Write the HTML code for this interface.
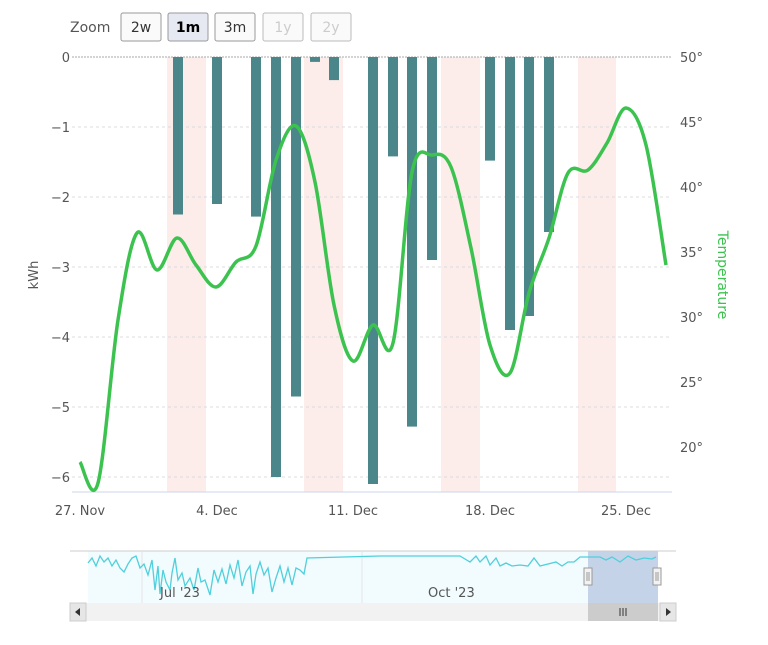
<!DOCTYPE html>
<html><head><meta charset="utf-8"><style>
body{margin:0;background:#fff;font-family:"Liberation Sans","DejaVu Sans",sans-serif}
svg text{font-family:"DejaVu Sans","Liberation Sans",sans-serif}
</style></head><body>
<svg id="s" width="768" height="640" xmlns="http://www.w3.org/2000/svg">
<rect width="768" height="640" fill="#fff"/>
<!-- zoom buttons -->
<text x="70" y="32" font-size="14" fill="#555">Zoom</text>
<g font-size="14">
<rect x="121" y="13" width="40" height="28" rx="2" fill="#fafafa" stroke="#999"/><text x="141" y="32" text-anchor="middle" fill="#333">2w</text>
<rect x="168" y="13" width="40" height="28" rx="2" fill="#e6e9f2" stroke="#999"/><text x="188" y="32" text-anchor="middle" fill="#000" font-weight="bold">1m</text>
<rect x="215" y="13" width="40" height="28" rx="2" fill="#fafafa" stroke="#999"/><text x="235" y="32" text-anchor="middle" fill="#333">3m</text>
<rect x="263" y="13" width="40" height="28" rx="2" fill="#fafafa" stroke="#bbb"/><text x="283" y="32" text-anchor="middle" fill="#ccc">1y</text>
<rect x="311" y="13" width="40" height="28" rx="2" fill="#fafafa" stroke="#bbb"/><text x="331" y="32" text-anchor="middle" fill="#ccc">2y</text>
</g>
<!-- weekend bands -->
<g fill="#fcecea">
<rect x="167" y="57" width="39" height="435"/><rect x="304" y="57" width="39" height="435"/>
<rect x="441" y="57" width="39" height="435"/><rect x="578" y="57" width="38" height="435"/>
</g>
<!-- grid -->
<g stroke="#ddd" stroke-dasharray="3,3">
<line x1="72" x2="672" y1="127" y2="127"/><line x1="72" x2="672" y1="197" y2="197"/>
<line x1="72" x2="672" y1="267" y2="267"/><line x1="72" x2="672" y1="337" y2="337"/>
<line x1="72" x2="672" y1="407" y2="407"/><line x1="72" x2="672" y1="477" y2="477"/>
</g>
<line x1="72" x2="672" y1="57" y2="57" stroke="#aaa" stroke-dasharray="2,1"/>
<line x1="72" x2="672" y1="492" y2="492" stroke="#ccd6eb"/>
<g id="bars" fill="#4a868a"></g>
<path id="temp" fill="none" stroke="#3cc34f" stroke-width="3.5" stroke-linejoin="round"/>
<!-- left labels -->
<g font-size="13" fill="#555" text-anchor="end">
<text x="70" y="62">0</text><text x="70" y="132">−1</text><text x="70" y="202">−2</text>
<text x="70" y="272">−3</text><text x="70" y="342">−4</text><text x="70" y="412">−5</text><text x="70" y="482">−6</text>
</g>
<text transform="translate(38,275) rotate(-90)" font-size="13" fill="#555" text-anchor="middle">kWh</text>
<g font-size="13" fill="#555">
<text x="680" y="62">50°</text><text x="680" y="127">45°</text><text x="680" y="192">40°</text>
<text x="680" y="257">35°</text><text x="680" y="322">30°</text><text x="680" y="387">25°</text><text x="680" y="452">20°</text>
</g>
<text transform="translate(718,275) rotate(90)" font-size="14" fill="#3cc34f" text-anchor="middle">Temperature</text>
<g font-size="13" fill="#555" text-anchor="middle">
<text x="80" y="515">27. Nov</text><text x="217" y="515">4. Dec</text><text x="353" y="515">11. Dec</text>
<text x="490" y="515">18. Dec</text><text x="626" y="515">25. Dec</text>
</g>
<!-- navigator -->
<rect x="88" y="551" width="500" height="52" fill="#f2fbfd"/>
<rect x="588" y="551" width="70" height="52" fill="#c5d3e8"/>
<line x1="70" x2="676" y1="551" y2="551" stroke="#ccc"/>
<line x1="142" x2="142" y1="551" y2="603" stroke="#e6e6e6"/>
<line x1="362" x2="362" y1="551" y2="603" stroke="#e6e6e6"/>
<polyline fill="none" stroke="#4fd0dc" stroke-width="1.3" points="88,563 92,558 96,566 100,556 104,562 108,558 112,566 116,560 120,568 124,572 128,564 132,558 136,556 140,568 144,564 148,575 152,560 155,590 158,566 160,594 163,570 166,582 170,590 172,573 175,558 178,580 182,573 185,586 190,578 194,590 198,568 201,582 205,580 210,595 214,570 218,582 222,569 226,584 230,565 234,578 238,560 242,586 246,572 250,566 253,594 256,574 260,562 264,575 268,568 272,592 276,578 280,566 284,582 288,568 292,585 296,568 300,570 304,574 307,558 380,556 460,556 470,562 476,556 480,562 486,556 490,565 496,558 500,566 506,563 512,566 520,565 528,566 534,558 540,566 548,564 556,562 562,566 568,562 574,562 580,557 590,557 600,557 606,560 612,557 620,562 628,556 636,560 644,558 652,559 656,557"/>
<g font-size="13" fill="#555"><text x="160" y="597">Jul '23</text><text x="428" y="597">Oct '23</text></g>
<rect x="584" y="568" width="8" height="17" fill="#f2f2f2" stroke="#999"/>
<line x1="587" x2="587" y1="572" y2="581" stroke="#999"/><line x1="589" x2="589" y1="572" y2="581" stroke="#999"/>
<rect x="653" y="568" width="8" height="17" fill="#f2f2f2" stroke="#999"/>
<line x1="656" x2="656" y1="572" y2="581" stroke="#999"/><line x1="658" x2="658" y1="572" y2="581" stroke="#999"/>
<!-- scrollbar -->
<rect x="70" y="603" width="606" height="18" fill="#f2f2f2"/>
<rect x="70" y="603" width="16" height="18" fill="#e6e6e6" stroke="#ccc"/>
<path d="M80,608 L80,616 L75,612Z" fill="#333"/>
<rect x="660" y="603" width="16" height="18" fill="#e6e6e6" stroke="#ccc"/>
<path d="M666,608 L666,616 L671,612Z" fill="#333"/>
<rect x="588" y="603" width="70" height="18" fill="#ccc"/>
<g stroke="#333"><line x1="620" x2="620" y1="608" y2="616"/><line x1="623" x2="623" y1="608" y2="616"/><line x1="626" x2="626" y1="608" y2="616"/></g>
</svg>
<script>
var bars=[[178,-2.25],[217,-2.1],[256,-2.28],[276,-6.0],[296,-4.85],[315,-0.07],[334,-0.33],[373,-6.1],[393,-1.42],[412,-5.28],[432,-2.9],[490,-1.48],[510,-3.9],[529,-3.7],[549,-2.5]];
var g=document.getElementById('bars'),h='';
bars.forEach(function(b){h+='<rect x="'+(b[0]-5)+'" y="57" width="10" height="'+(-b[1]*70)+'"/>';});
g.innerHTML=h;
var p=[[80,462],[98,483],[118,320],[137,233],[157,270],[177,238],[196,265],[216,287],[236,262],[256,246],[276,160],[296,126],[315,182],[334,305],[353,361],[373,325],[393,343],[412,172],[432,155],[451,167],[471,248],[490,345],[510,373],[529,293],[549,238],[568,173],[588,170],[607,143],[626,108],[646,145],[666,265]];
var d='M'+p[0][0]+','+p[0][1];
for(var i=0;i<p.length-1;i++){var a=p[i-1]||p[i],b=p[i],c=p[i+1],e=p[i+2]||c;
d+=' C'+(b[0]+(c[0]-a[0])/6)+','+(b[1]+(c[1]-a[1])/6)+' '+(c[0]-(e[0]-b[0])/6)+','+(c[1]-(e[1]-b[1])/6)+' '+c[0]+','+c[1];}
document.getElementById('temp').setAttribute('d',d);
</script>
</body></html>
